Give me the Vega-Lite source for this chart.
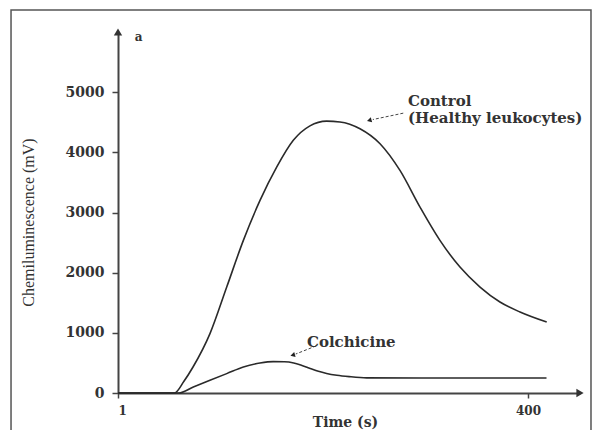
{
  "$schema": "https://vega.github.io/schema/vega-lite/v6.json",
  "width": 462,
  "height": 361,
  "autosize": {"type": "none"},
  "padding": {"left": 118, "top": 32, "right": 15, "bottom": 37},
  "background": "white",
  "config": {"view": {"stroke": null}},
  "datasets": {
    "curves": [
      {"series": "Control", "t": 1, "v": 0},
      {"series": "Control", "t": 56, "v": 0},
      {"series": "Control", "t": 65, "v": 190},
      {"series": "Control", "t": 74, "v": 432},
      {"series": "Control", "t": 90.5, "v": 987},
      {"series": "Control", "t": 106.8, "v": 1761},
      {"series": "Control", "t": 123, "v": 2537},
      {"series": "Control", "t": 139.2, "v": 3201},
      {"series": "Control", "t": 155.4, "v": 3754},
      {"series": "Control", "t": 171.6, "v": 4200},
      {"series": "Control", "t": 187.8, "v": 4440},
      {"series": "Control", "t": 204, "v": 4518},
      {"series": "Control", "t": 217, "v": 4505},
      {"series": "Control", "t": 236.5, "v": 4392},
      {"series": "Control", "t": 256, "v": 4143},
      {"series": "Control", "t": 275.4, "v": 3699},
      {"series": "Control", "t": 294.9, "v": 3090},
      {"series": "Control", "t": 314.3, "v": 2537},
      {"series": "Control", "t": 333.8, "v": 2093},
      {"series": "Control", "t": 353.3, "v": 1761},
      {"series": "Control", "t": 372.7, "v": 1512},
      {"series": "Control", "t": 392.2, "v": 1346},
      {"series": "Control", "t": 418.2, "v": 1179},
      {"series": "Colchicine", "t": 1, "v": 0},
      {"series": "Colchicine", "t": 60, "v": 0},
      {"series": "Colchicine", "t": 74.3, "v": 100},
      {"series": "Colchicine", "t": 90.5, "v": 211},
      {"series": "Colchicine", "t": 106.8, "v": 322},
      {"series": "Colchicine", "t": 123, "v": 432},
      {"series": "Colchicine", "t": 139.2, "v": 498},
      {"series": "Colchicine", "t": 152, "v": 522},
      {"series": "Colchicine", "t": 163, "v": 520},
      {"series": "Colchicine", "t": 172, "v": 500},
      {"series": "Colchicine", "t": 180, "v": 458},
      {"series": "Colchicine", "t": 188, "v": 408},
      {"series": "Colchicine", "t": 196, "v": 360},
      {"series": "Colchicine", "t": 204, "v": 325},
      {"series": "Colchicine", "t": 214, "v": 295},
      {"series": "Colchicine", "t": 226, "v": 272},
      {"series": "Colchicine", "t": 243, "v": 252},
      {"series": "Colchicine", "t": 300, "v": 249},
      {"series": "Colchicine", "t": 418, "v": 249}
    ],
    "frame": [{"t": -103.1, "t2": 461.3, "v": 6365, "v2": -800}],
    "leaders": [
      {"t": 278.6, "v": 4651, "t2": 249, "v2": 4545},
      {"t": 193.7, "v": 782, "t2": 174, "v2": 648}
    ],
    "heads": [
      {"t": 245.5, "v": 4532},
      {"t": 171, "v": 630}
    ],
    "axisArrows": [
      {"t": 1, "v": 6000, "shape": "triangle-up"},
      {"t": 450.6, "v": 0, "shape": "triangle-right"}
    ],
    "labels": [
      {"t": 283.2, "v": 4765, "text": "Control"},
      {"t": 283.2, "v": 4487, "text": "(Healthy leukocytes)"},
      {"t": 184.9, "v": 764, "text": "Colchicine"}
    ],
    "panel": [{"t": 21, "v": 5910, "text": "a"}]
  },
  "encoding": {
    "x": {
      "field": "t", "type": "quantitative",
      "scale": {"domain": [1, 450.6], "nice": false, "zero": false},
      "axis": {
        "title": "Time (s)",
        "values": [1, 400],
        "format": "d",
        "grid": false,
        "domainColor": "#444444", "domainWidth": 2,
        "tickColor": "#444444", "tickWidth": 1.5, "tickSize": 5,
        "labelPadding": 7,
        "labelFont": "DejaVu Serif", "labelFontSize": 12, "labelFontWeight": "bold", "labelColor": "#333333",
        "titleFont": "DejaVu Serif", "titleFontSize": 14, "titleFontWeight": "bold", "titleColor": "#333333",
        "titleX": 227, "titleY": 22, "titleBaseline": "top"
      }
    },
    "y": {
      "field": "v", "type": "quantitative",
      "scale": {"domain": [0, 6000], "nice": false},
      "axis": {
        "title": "Chemiluminescence (mV)",
        "values": [0, 1000, 2000, 3000, 4000, 5000],
        "format": "d",
        "grid": false,
        "domainColor": "#444444", "domainWidth": 2,
        "tickColor": "#444444", "tickWidth": 1.5, "tickSize": 6,
        "labelPadding": 8,
        "labelFont": "DejaVu Serif", "labelFontSize": 14, "labelFontWeight": "bold", "labelColor": "#333333",
        "titleFont": "Liberation Serif", "titleFontSize": 16, "titleFontWeight": "normal", "titleColor": "#333333",
        "titleX": -90, "titleY": 190, "titleBaseline": "middle", "titleAngle": -90
      }
    }
  },
  "layer": [
    {
      "data": {"name": "frame"},
      "mark": {"type": "rect", "fill": null, "stroke": "#555555", "strokeWidth": 1.5},
      "encoding": {
        "x2": {"field": "t2"},
        "y2": {"field": "v2"}
      }
    },
    {
      "data": {"name": "curves"},
      "mark": {"type": "line", "interpolate": "monotone", "color": "#2a2a2a", "strokeWidth": 1.6},
      "encoding": {
        "detail": {"field": "series"}
      }
    },
    {
      "data": {"name": "leaders"},
      "mark": {"type": "rule", "strokeDash": [3, 2], "color": "#444444", "strokeWidth": 1},
      "encoding": {
        "x2": {"field": "t2"},
        "y2": {"field": "v2"}
      }
    },
    {
      "data": {"name": "heads"},
      "mark": {"type": "point", "shape": "triangle-left", "filled": true, "color": "#222222", "size": 28, "angle": 345, "opacity": 1},
      "encoding": {}
    },
    {
      "data": {"name": "axisArrows"},
      "mark": {"type": "point", "filled": true, "color": "#333333", "size": 70, "opacity": 1},
      "encoding": {
        "shape": {"field": "shape", "type": "nominal", "scale": null, "legend": null}
      }
    },
    {
      "data": {"name": "labels"},
      "mark": {"type": "text", "align": "left", "baseline": "alphabetic", "font": "DejaVu Serif", "fontSize": 15, "fontWeight": "bold", "color": "#333333"},
      "encoding": {
        "text": {"field": "text"}
      }
    },
    {
      "data": {"name": "panel"},
      "mark": {"type": "text", "align": "center", "baseline": "middle", "font": "DejaVu Serif", "fontSize": 12, "fontWeight": "bold", "color": "#333333"},
      "encoding": {
        "text": {"field": "text"}
      }
    }
  ]
}
